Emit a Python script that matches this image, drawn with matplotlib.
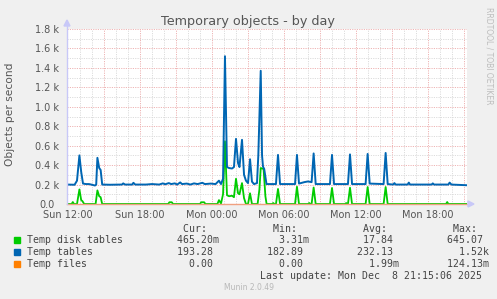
import matplotlib
matplotlib.use('Agg')
import matplotlib.pyplot as plt
from matplotlib.patches import Polygon, Rectangle
from matplotlib.lines import Line2D

# hours after Sun 12:00, values in objects per second
blue_h = [-0.08, 0.55, 0.75, 0.95, 1.1, 1.25, 1.5, 1.75, 2.0, 2.25, 2.35, 2.45, 2.6, 2.72, 2.85,
          3.5, 4.5, 4.6, 4.75, 5.35, 5.45, 5.6, 6.5, 7.0, 7.6, 7.9, 8.1, 8.4, 8.6, 8.9, 9.1,
          9.35, 9.5, 9.9, 10.2, 10.5, 10.8, 11.2, 11.4, 11.9, 12.3, 12.58, 12.75, 12.92, 13.08,
          13.25, 13.42, 13.67, 13.83, 14.0, 14.17, 14.29, 14.5, 14.67, 14.83, 15.0, 15.17, 15.33,
          15.5, 15.75, 15.86, 16.06, 16.17, 16.25, 16.35, 16.54, 17.33, 17.5, 17.67, 18.92, 19.08,
          19.25, 19.7, 20.0, 20.3, 20.47, 20.64, 21.83, 22.0, 22.17, 23.33, 23.5, 23.67, 24.8,
          24.97, 25.14, 26.3, 26.47, 26.64, 27.1, 27.2, 27.3, 28.3, 28.4, 28.5, 30.3, 30.4, 30.5,
          31.7, 31.8, 31.95, 33.25]
blue_v = [200, 198, 240, 500, 330, 210, 205, 205, 198, 190, 200, 475, 370, 350, 200,
          198, 200, 212, 200, 200, 218, 200, 200, 205, 200, 212, 203, 215, 205, 212, 200,
          222, 205, 210, 200, 212, 205, 218, 205, 210, 205, 240, 205, 260, 1520,
          380, 370, 365, 380, 670, 420, 380, 660, 300, 240, 215, 460, 230,
          205, 215, 500, 1370, 500, 385, 360, 205, 205, 505, 205, 205, 505,
          210, 225, 232, 225, 520, 205, 205, 505, 205, 205, 510, 205, 205,
          515, 210, 205, 525, 205, 200, 215, 200, 200, 220, 200, 200, 212, 200,
          200, 220, 200, 193]

green_h = [-0.08, 0.3, 0.4, 0.5, 0.75, 0.95, 1.1, 1.2, 1.35, 2.3, 2.45, 2.6, 2.72, 2.85,
           8.35, 8.45, 8.65, 8.75, 11.0, 11.1, 11.35, 11.45, 12.45, 12.58, 12.75, 12.92, 13.08,
           13.25, 13.42, 13.67, 13.83, 14.0, 14.17, 14.29, 14.5, 14.67, 14.83, 15.0, 15.17, 15.33,
           15.8, 15.95, 16.06, 16.3, 16.45, 16.55, 17.0, 17.1, 17.2, 17.33, 17.5, 17.67,
           18.92, 19.08, 19.25, 20.0, 20.1, 20.2, 20.3, 20.47, 20.64, 21.83, 22.0, 22.17,
           23.1, 23.18, 23.26, 23.33, 23.5, 23.67, 24.8, 24.97, 25.14, 26.3, 26.47, 26.64,
           31.5, 31.6, 31.7, 33.25]
green_v = [0, 0, 20, 0, 0, 150, 40, 30, 0, 0, 140, 80, 70, 0,
           0, 18, 18, 0, 0, 18, 18, 0, 0, 40, 5, 100, 645,
           90, 80, 85, 70, 260, 110, 100, 215, 60, 0, 0, 110, 0,
           0, 150, 370, 360, 80, 0, 0, 10, 0, 0, 155, 0,
           0, 178, 0, 0, 10, 0, 0, 170, 0, 0, 165, 0,
           0, 10, 0, 0, 168, 0, 0, 175, 0, 0, 175, 0,
           0, 20, 0, 0.47]

orange_h = [-0.08, 33.25]
orange_v = [0, 0]

series_names = ['Temp disk tables', 'Temp tables', 'Temp files']
series_colors = ['#00CC00', '#0066B3', '#FF8000']
cur_vals = [0.4652, 193.28, 0.0]
min_vals = [0.00331, 182.89, 0.0]
avg_vals = [17.84, 232.13, 0.00199]
max_vals = [645.07, 1520.0, 0.12413]

x_ticks = [0, 6, 12, 18, 24, 30]
x_labels = ['Sun 12:00', 'Sun 18:00', 'Mon 00:00', 'Mon 06:00', 'Mon 12:00', 'Mon 18:00']
y_ticks = [0, 200, 400, 600, 800, 1000, 1200, 1400, 1600, 1800]
y_labels = ['0.0', '0.2 k', '0.4 k', '0.6 k', '0.8 k', '1.0 k', '1.2 k', '1.4 k', '1.6 k', '1.8 k']

W, H = 497, 299


def fx(px):
    return px / W


def fy(py):
    return 1 - py / H


def si(v):
    if v >= 1000:
        return '%6.2fk' % (v / 1000)
    if 0 < v < 1:
        return '%6.2fm' % (v * 1000)
    return '%6.2f ' % v


fig = plt.figure(figsize=(W / 100, H / 100), dpi=100, facecolor='#F0F0F0')
ax = fig.add_axes([fx(67), fy(204), 400 / W, 175 / H])
ax.set_facecolor('white')
ax.set_xlim(-5 / 60, 33.25)
ax.set_ylim(0, 1800)

# grid
for h in range(1, 34):
    c = '#eeb4b4' if h % 3 == 0 else '#dcdcdc'
    ax.axvline(h, color=c, lw=0.7, ls=(0, (1.2, 1.2)), zorder=1)
for v in range(100, 1900, 100):
    c = '#eeb4b4' if v % 200 == 0 else '#dcdcdc'
    ax.axhline(v, color=c, lw=0.7, ls=(0, (1.2, 1.2)), zorder=1)

ax.plot(green_h, green_v, color=series_colors[0], lw=1.3, zorder=3)
ax.plot(blue_h, blue_v, color=series_colors[1], lw=1.4, zorder=4)
ax.plot(orange_h, orange_v, color='#f0a080', lw=1.0, zorder=5, clip_on=False)

for s in ax.spines.values():
    s.set_visible(False)

ax.set_xticks(x_ticks, x_labels)
ax.set_yticks(y_ticks, y_labels)
ax.tick_params(length=0, labelsize=7, colors='#555555')
ax.tick_params(axis='x', pad=4)
ax.tick_params(axis='y', pad=5.5)
# "0.0" sits one space further left in the reference
ax.get_yticklabels()[0].set_x(-0.012)

# axis lines and arrows
fig.add_artist(Line2D([fx(67), fx(67)], [fy(204), fy(24)], color='#c8c8f8', lw=1))
fig.add_artist(Polygon([[fx(64), fy(26)], [fx(70), fy(26)], [fx(67), fy(20)]], closed=True,
                       color='#c8c8f8'))
fig.add_artist(Polygon([[fx(468), fy(201)], [fx(468), fy(207)], [fx(474), fy(204)]], closed=True,
                       color='#c8c8f8'))

fig.text(fx(248), fy(25), 'Temporary objects - by day', ha='center', va='baseline',
         fontsize=9.2, color='#555555')
fig.text(fx(10), fy(114), 'Objects per second', rotation=90, ha='center', va='center',
         fontsize=7.7, color='#555555')
fig.text(fx(489), fy(56), 'RRDTOOL / TOBI OETIKER', rotation=270, ha='center', va='center',
         fontsize=5.5, color='#bdbdbd')

mono = 'DejaVu Sans Mono'
fs = 7.1
fig.text(fx(26.7), fy(229), ' ' * 26 + 'Cur:' + ' ' * 11 + 'Min:' + ' ' * 11 + 'Avg:' + ' ' * 11 + 'Max:',
         family=mono, fontsize=fs, color='#444444', va='center', ha='left')
for i, name in enumerate(series_names):
    y = 240 + 12 * i
    row = name.ljust(25)
    for vals in (cur_vals, min_vals, avg_vals, max_vals):
        row += si(vals[i]).ljust(15)
    fig.text(fx(26.7), fy(y), row.rstrip(), family=mono, fontsize=fs, color='#444444',
             va='center', ha='left')
    fig.add_artist(Rectangle((fx(14), fy(y + 2.8)), 5.5 / W, 5.5 / H, color=series_colors[i]))
fig.text(fx(482.5), fy(276), 'Last update: Mon Dec  8 21:15:06 2025', family=mono, fontsize=fs,
         color='#444444', va='center', ha='right')
fig.text(fx(249), fy(288), 'Munin 2.0.49', fontsize=5.5, color='#b8b8b8', ha='center', va='center')

fig.savefig('out.png', dpi=100, facecolor=fig.get_facecolor())
